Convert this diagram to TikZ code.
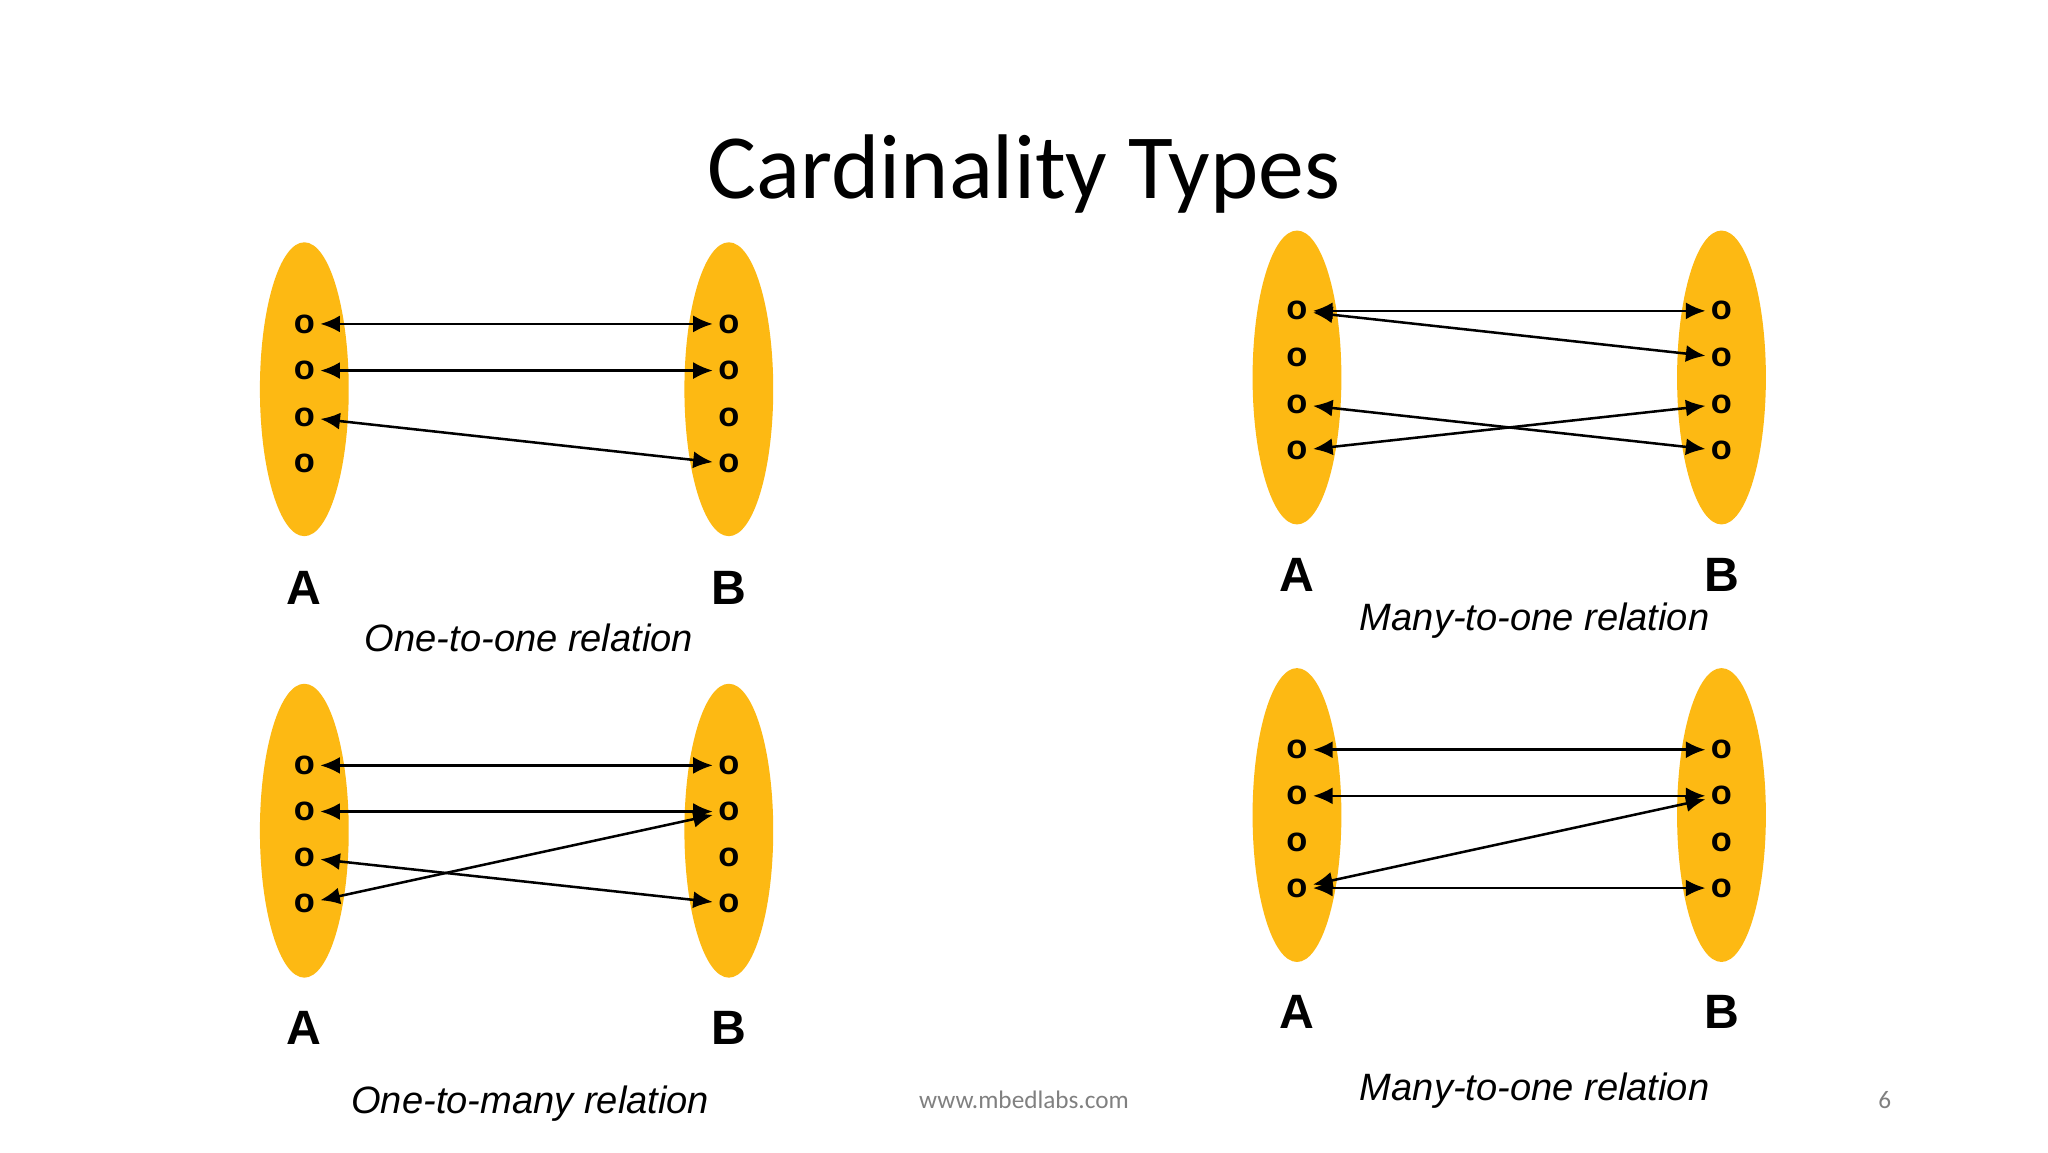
\documentclass[tikz,border=0pt]{standalone}
\usepackage{fontspec}
\setmainfont{Liberation Sans}
\newfontfamily\titlefont{Carlito}
\usetikzlibrary{arrows.meta,shapes.geometric}
\definecolor{setfill}{HTML}{FDB913}
\tikzset{
  setell/.style={ellipse,fill=setfill,minimum width=0.68cm,minimum height=2.25cm,inner sep=0pt},
  elem/.style={inner sep=0.5pt,font=\bfseries\fontsize{7.5}{8}\selectfont},
  setlabel/.style={font=\bfseries\fontsize{10.5}{12}\selectfont},
  rel/.style={font=\itshape\fontsize{8.3}{10}\selectfont},
  link/.style={{Latex[length=1.5mm,width=1.3mm]}-{Latex[length=1.5mm,width=1.3mm]},line width=0.55pt,shorten <=0.5pt,shorten >=0.5pt}
}
\newcommand{\diagram}[7]{%
 \node[setell] (#1ea) at (#2,#4) {};
 \node[setell] (#1eb) at (#3,#4) {};
 \foreach \i in {1,2,3,4}{
   \node[elem] (#1a\i) at (#2,{#5-(\i-1)*#6}) {o};
   \node[elem] (#1b\i) at (#3,{#5-(\i-1)*#6}) {o};
 }
 \node[setlabel] (#1la) at (#2,#7) {A};
 \node[setlabel] (#1lb) at (#3,#7) {B};
}
\begin{document}
\begin{tikzpicture}[x=1cm,y=1cm]
\useasboundingbox (0,0) rectangle (15.68,8.82);
\fill[white] (0,0) rectangle (15.68,8.82);
\node[font=\titlefont\fontsize{20}{24}\selectfont] (title) at (7.84,7.49) {Cardinality Types};
\diagram{p}{2.33}{5.58}{5.84}{6.34}{0.357}{4.32}
\draw[link] (pa1) -- (pb1);
\draw[link] (pa2) -- (pb2);
\draw[link] (pa3) -- (pb4);
\node[rel] (prel) at (4.05,3.94) {One-to-one relation};
\diagram{q}{9.93}{13.18}{5.93}{6.44}{0.357}{4.42}
\draw[link] (qa1) -- (qb1);
\draw[link] (qa1) -- (qb2);
\draw[link] (qa3) -- (qb4);
\draw[link] (qa4) -- (qb3);
\node[rel] (qrel) at (11.75,4.07) {Many-to-one relation};
\diagram{r}{2.33}{5.58}{2.46}{2.96}{0.353}{0.95}
\draw[link] (ra1) -- (rb1);
\draw[link] (ra2) -- (rb2);
\draw[link] (ra3) -- (rb4);
\draw[link] (ra4) -- (rb2);
\node[rel] (rrel) at (4.06,0.37) {One-to-many relation};
\diagram{s}{9.93}{13.18}{2.58}{3.08}{0.353}{1.07}
\draw[link] (sa1) -- (sb1);
\draw[link] (sa2) -- (sb2);
\draw[link] (sa4) -- (sb2);
\draw[link] (sa4) -- (sb4);
\node[rel] (srel) at (11.75,0.47) {Many-to-one relation};
\node[font=\titlefont\fontsize{5.5}{6}\selectfont,text=gray] (url) at (7.84,0.40) {www.mbedlabs.com};
\node[font=\titlefont\fontsize{5.5}{6}\selectfont,text=gray] (pg) at (14.43,0.40) {6};
\end{tikzpicture}
\end{document}
